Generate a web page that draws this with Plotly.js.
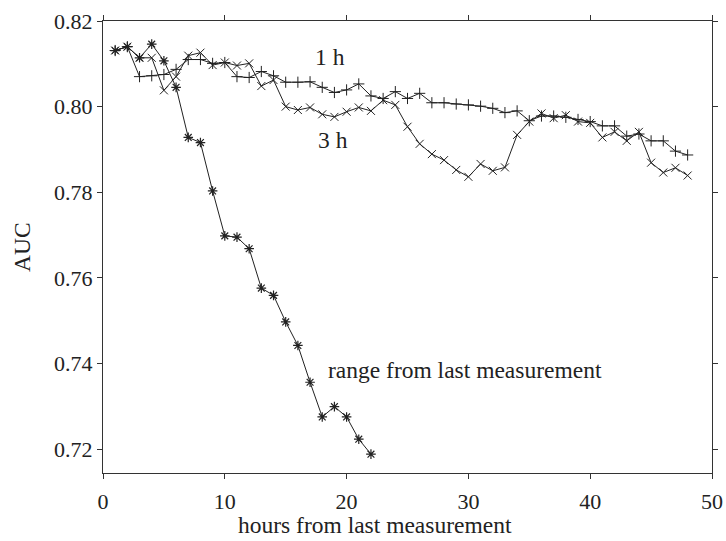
<!DOCTYPE html>
<html>
<head>
<meta charset="utf-8">
<script src="https://cdn.plot.ly/plotly-3.0.1.min.js"></script>
<style>html,body{margin:0;padding:0;background:#fff;}#chart{width:726px;height:541px;}</style>
</head>
<body>
<div id="chart"></div>
<script>
// hours from last measurement
const hours = [1,2,3,4,5,6,7,8,9,10,11,12,13,14,15,16,17,18,19,20,21,22,23,24,25,26,27,28,29,30,31,32,33,34,35,36,37,38,39,40,41,42,43,44,45,46,47,48];
const hoursRange = [1,2,3,4,5,6,7,8,9,10,11,12,13,14,15,16,17,18,19,20,21,22];

// "1 h" series (+ markers)
const auc1h = [0.8131,0.8140,0.8070,0.8072,0.8075,0.8087,0.8110,0.8110,0.8101,0.8103,0.8070,0.8068,0.8082,0.8072,0.8057,0.8057,0.8058,0.8045,0.8033,0.8039,0.8053,0.8025,0.8019,0.8035,0.8019,0.8031,0.8009,0.8009,0.8006,0.8004,0.8001,0.7996,0.7986,0.7990,0.7967,0.7978,0.7978,0.7975,0.7970,0.7965,0.7955,0.7955,0.7931,0.7936,0.7920,0.7920,0.7896,0.7887];

// "3 h" series (x markers)
const auc3h = [0.8131,0.8140,0.8114,0.8114,0.8038,0.8070,0.8119,0.8126,0.8097,0.8103,0.8096,0.8101,0.8048,0.8062,0.8000,0.7992,0.7998,0.7982,0.7976,0.7988,0.7998,0.7990,0.8015,0.8004,0.7953,0.7913,0.7889,0.7875,0.7852,0.7836,0.7866,0.7850,0.7858,0.7934,0.7965,0.7984,0.7973,0.7980,0.7965,0.7962,0.7928,0.7941,0.7920,0.7941,0.7869,0.7846,0.7857,0.7839];

// "range from last measurement" series (* markers)
const aucRange = [0.8131,0.8140,0.8114,0.8146,0.8107,0.8045,0.7928,0.7916,0.7803,0.7698,0.7695,0.7668,0.7576,0.7559,0.7497,0.7442,0.7356,0.7275,0.7299,0.7275,0.7223,0.7188];

const labels = ["1 h", "3 h", "range from last measurement"];
const xTitle = 'hours from last measurement';
const yTitle = 'AUC';

const lineCol = '#222';
const fam = '"Liberation Serif", "Times New Roman", serif';
const tickFont = {family: fam, size: 22, color: '#222'};
const textFont = {family: fam, size: 23.5, color: '#222'};

const traces = [
  {x: hours, y: auc1h, mode: 'lines+markers', name: labels[0],
   line: {color: lineCol, width: 1},
   marker: {symbol: 'cross-thin-open', size: 8, color: lineCol, line: {color: lineCol, width: 1}}},
  {x: hours, y: auc3h, mode: 'lines+markers', name: labels[1],
   line: {color: lineCol, width: 1},
   marker: {symbol: 'x-thin-open', size: 8, color: lineCol, line: {color: lineCol, width: 1}}},
  {x: hoursRange, y: aucRange, mode: 'lines+markers', name: labels[2],
   line: {color: lineCol, width: 1},
   marker: {symbol: 'asterisk-open', size: 8, color: lineCol, line: {color: lineCol, width: 1.2}}}
];

const layout = {
  width: 726, height: 541,
  margin: {l: 103, r: 14, t: 21, b: 68},
  paper_bgcolor: '#fff', plot_bgcolor: '#fff',
  showlegend: false,
  font: tickFont,
  xaxis: {
    range: [0, 50], tickvals: [0,10,20,30,40,50],
    ticks: 'outside', ticklen: 5, tickcolor: '#333', tickwidth: 1,
    ticklabelstandoff: 4,
    showline: true, linecolor: '#333', linewidth: 1, mirror: 'ticks',
    showgrid: false, zeroline: false,
    tickfont: tickFont
  },
  yaxis: {
    range: [0.7144, 0.82], tickvals: [0.72,0.74,0.76,0.78,0.80,0.82],
    tickformat: '.2f',
    ticks: 'outside', ticklen: 5, tickcolor: '#333', tickwidth: 1,
    showline: true, linecolor: '#333', linewidth: 1, mirror: 'ticks',
    showgrid: false, zeroline: false,
    tickfont: tickFont
  },
  annotations: [
    {x: 0.4466, y: -0.116, xref: 'paper', yref: 'paper', text: xTitle, showarrow: false,
     xanchor: 'center', yanchor: 'middle', borderpad: 0, font: textFont},
    {x: -0.133, y: 0.5, xref: 'paper', yref: 'paper', text: yTitle, showarrow: false,
     textangle: -90, xanchor: 'center', yanchor: 'middle', font: textFont},
    {x: 18.6, y: 0.8116, xref: 'x', yref: 'y', text: labels[0], showarrow: false, font: textFont},
    {x: 18.9, y: 0.7922, xref: 'x', yref: 'y', text: labels[1], showarrow: false, font: textFont},
    {x: 18.3, y: 0.7385, xref: 'x', yref: 'y', text: labels[2], showarrow: false, xanchor: 'left', font: textFont}
  ]
};

Plotly.newPlot('chart', traces, layout, {displayModeBar: false, staticPlot: true});
</script>
</body>
</html>
